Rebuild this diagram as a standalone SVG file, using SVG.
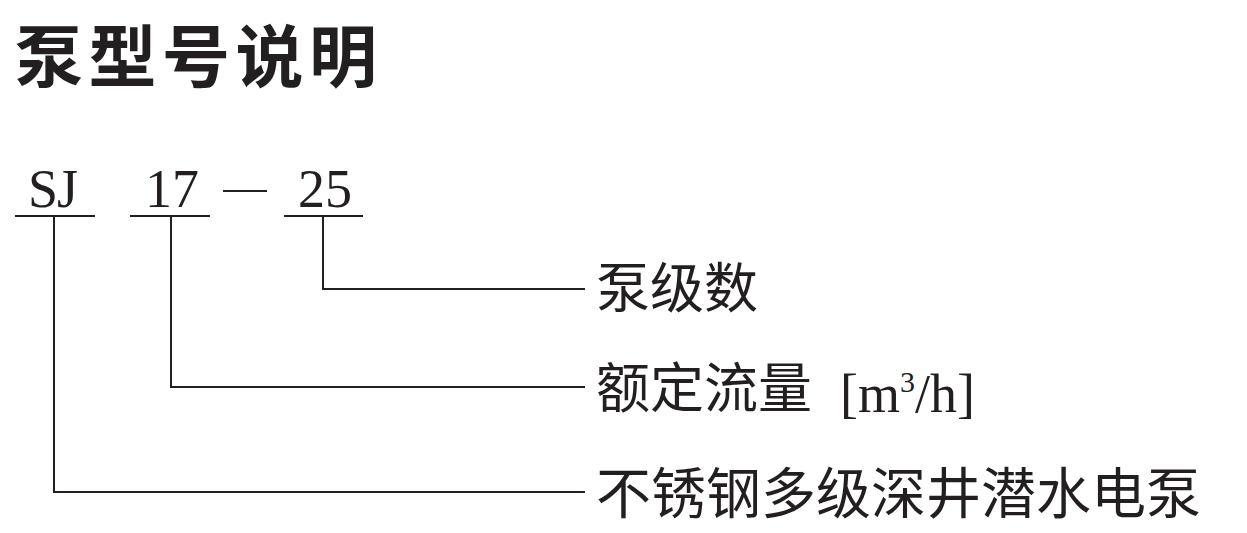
<svg xmlns="http://www.w3.org/2000/svg" width="1247" height="533" viewBox="0 0 1247 533">
<style>
.title{font-family:"Noto Sans CJK SC","Noto Sans",sans-serif;font-weight:700;font-size:68px;fill:#231f20;letter-spacing:5.5px}
.code{font-family:"Liberation Serif",serif;font-size:54px;fill:#231f20}
.lbl{font-family:"Noto Sans CJK SC","Noto Sans",sans-serif;font-size:54px;fill:#231f20}
.lbl2{font-family:"Noto Sans CJK SC","Noto Sans",sans-serif;font-size:55px;fill:#231f20}
.lbls{font-family:"Liberation Serif","Noto Sans CJK SC",serif;font-size:54px;fill:#231f20}
.ln{stroke:#231f20;stroke-width:2;fill:none}
</style>
<rect width="1247" height="533" fill="#fff"/>
<text class="title" x="15" y="82">泵型号说明</text>
<g id="node-sj">
<text class="code" x="28" y="207" textLength="50">SJ</text>
<line class="ln" x1="15" y1="216" x2="95" y2="216"/>
</g>
<g id="node-17">
<text class="code" x="145" y="207">17</text>
<line class="ln" x1="130" y1="216" x2="210" y2="216"/>
</g>
<g id="node-dash">
<line class="ln" x1="223" y1="191" x2="267" y2="191" stroke-width="2.5"/>
</g>
<g id="node-25">
<text class="code" x="298" y="207">25</text>
<line class="ln" x1="284" y1="216" x2="363" y2="216"/>
</g>
<g id="label-stages">
<text class="lbl" x="596" y="308">泵级数</text>
</g>
<g id="label-flow">
<text class="lbl" x="596" y="408">额定流量</text>
<text class="lbls" x="840" y="412">[m<tspan font-size="30" dy="-20">3</tspan><tspan dy="20">/h]</tspan></text>
</g>
<g id="label-type">
<text class="lbl2" x="596" y="513">不锈钢多级深井潜水电泵</text>
</g>
<g id="connectors">
<polyline class="ln" points="323,216 323,289 585,289"/>
<polyline class="ln" points="171,216 171,387 585,387"/>
<polyline class="ln" points="54,216 54,492 585,492"/>
</g>
</svg>
